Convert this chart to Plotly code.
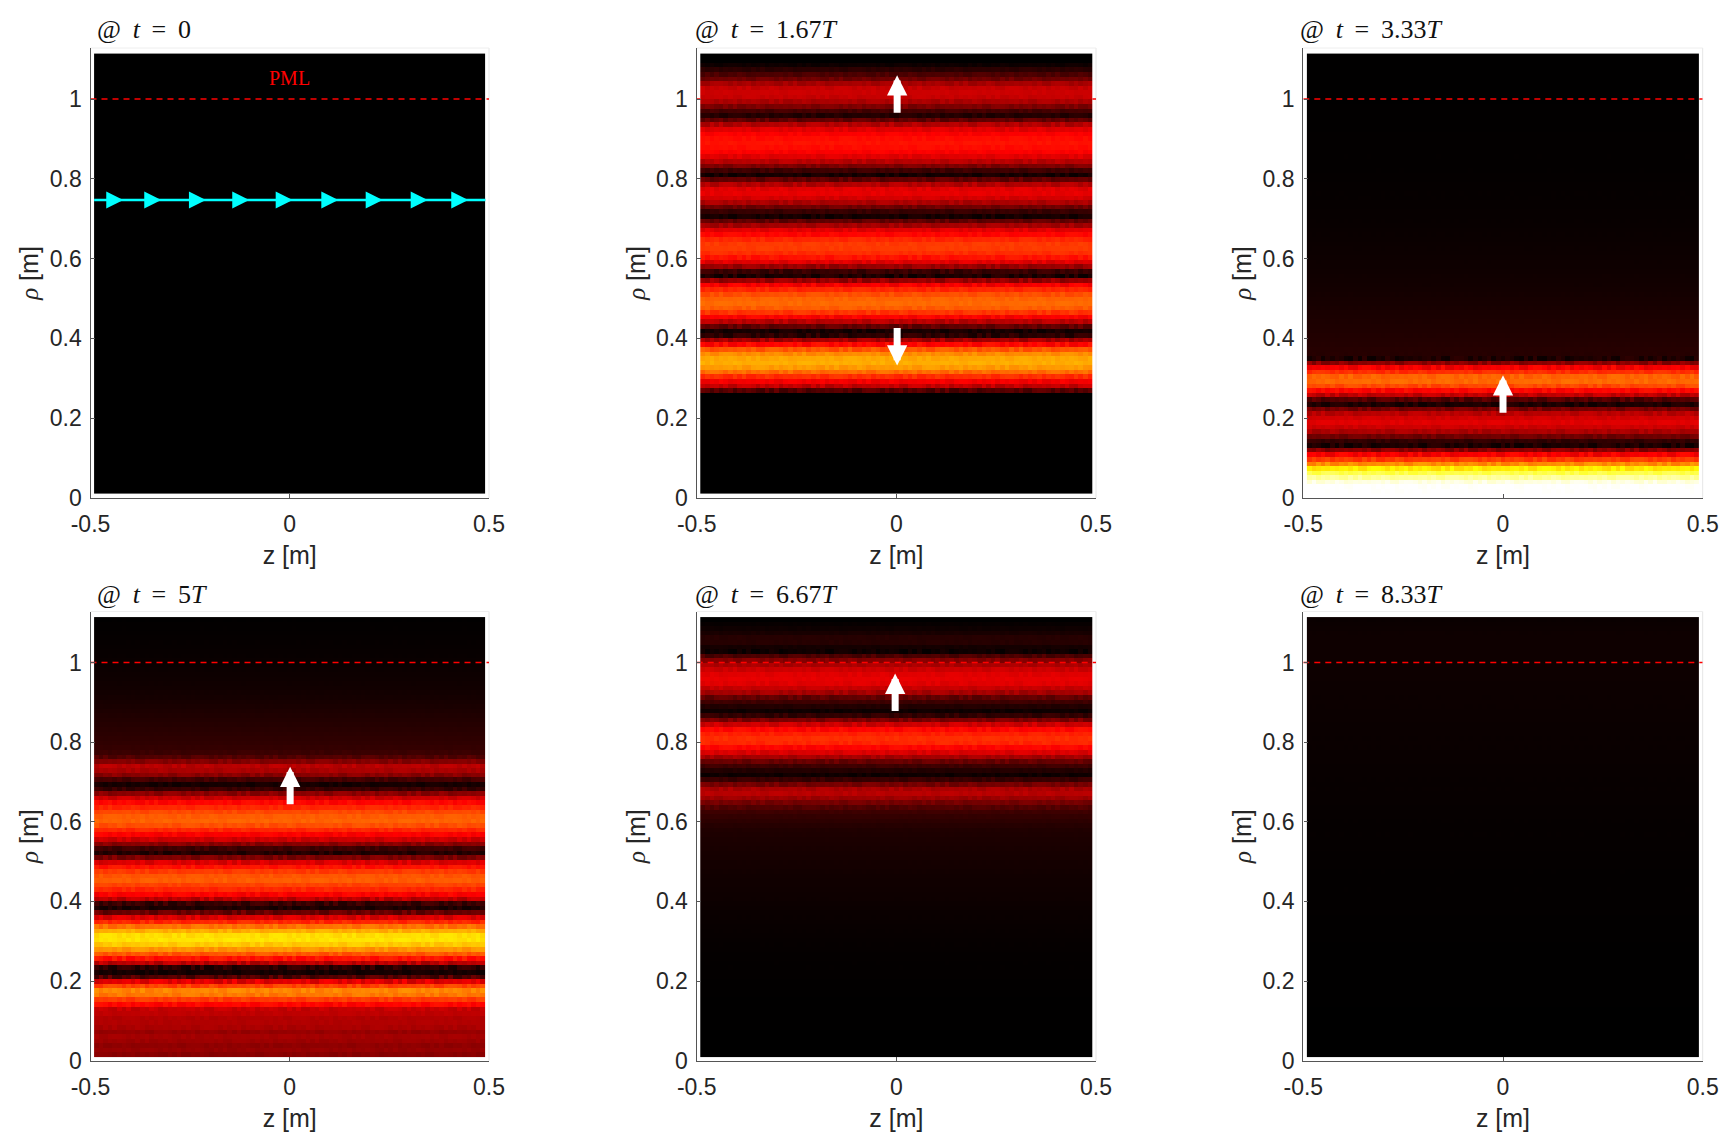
import numpy as np
import plotly.graph_objects as go

W, H = 1731, 1144
GAP = " \u2009"
titles = ["@" + GAP + "<i>t</i>" + GAP + "=" + GAP + "0", "@" + GAP + "<i>t</i>" + GAP + "=" + GAP + "1.67<i>T</i>",
          "@" + GAP + "<i>t</i>" + GAP + "=" + GAP + "3.33<i>T</i>", "@" + GAP + "<i>t</i>" + GAP + "=" + GAP + "5<i>T</i>",
          "@" + GAP + "<i>t</i>" + GAP + "=" + GAP + "6.67<i>T</i>", "@" + GAP + "<i>t</i>" + GAP + "=" + GAP + "8.33<i>T</i>"]
x_ticks = [-0.5, 0, 0.5]
x_labels = ["-0.5", "0", "0.5"]
y_ticks = [0, 0.2, 0.4, 0.6, 0.8, 1]
y_labels = ["0", "0.2", "0.4", "0.6", "0.8", "1"]

# Row profiles on the hot colour scale (0 black, 0.375 red, 0.75 yellow, 1 white), bottom row first
profile_t0 = [0.0] * 96
profile_t167 = [0.0] * 22 + [
    .12, .28, .36, .44, .53, .60, .63, .62, .58, .50, .38, .24, .06, .03, .14, .27, .37, .45, .51, .53,
    .52, .49, .43, .36, .22, .04, .08, .22, .33, .40, .44, .46, .46, .43, .38, .33, .24, .14, .03, .08,
    .16, .25, .31, .34, .33, .26, .14, .03, .09, .18, .27, .33, .37, .39, .40, .39, .37, .33, .26, .14,
    .05, .10, .18, .25, .29, .30, .29, .24, .16, .11, .06, .02, 0, 0]
profile_t333 = [
    1.0, 1.0, .97, .90, .82, .72, .58, .46, .36, .20, .04, .07, .16, .25, .30, .33, .31, .27, .17, .04,
    .12, .28, .38, .48, .53, .52, .44, .36, .20, .04, .055, .055, .052, .05, .048, .046, .044, .042, .04, .038,
    .036, .034, .032, .03, .028, .026, .025, .024, .022, .021, .02, .019, .018, .017, .016, .015, .014, .013, .012, .011,
    .01, .01, .009, .009, .008, .008, .007, .007, .006, .006, .005, .005, .005, .005, .004, .004, .004, .004, .004, .003,
    .003, .003, .003, .003, .003, .002, .002, .002, .002, .002, .002, .001, .001, .001, .001, .001]
profile_t5 = [
    .20, .22, .21, .23, .24, .22, .25, .26, .26, .28, .29, .38, .46, .55, .57, .47, .33, .12, .03, .06,
    .27, .40, .50, .59, .67, .71, .70, .63, .54, .43, .32, .15, .04, .08, .27, .37, .43, .47, .51, .50,
    .46, .40, .32, .18, .05, .09, .20, .30, .37, .43, .49, .52, .51, .48, .43, .38, .30, .20, .08, .03,
    .10, .20, .25, .27, .19, .12, .085, .075, .07, .066, .062, .058, .054, .05, .046, .042, .038, .034, .03, .027,
    .025, .023, .021, .019, .017, .015, .013, .011, .01, .009, .008, .007, .006, .005, .004, .002]
profile_t667 = [
    0, 0, 0, 0, 0, 0, .001, .001, .001, .002, .002, .002, .002, .003, .003, .003, .003, .004, .004, .005,
    .005, .006, .006, .007, .008, .009, .01, .011, .012, .013, .014, .015, .016, .018, .02, .021, .022, .023, .024, .025,
    .027, .029, .03, .032, .034, .036, .038, .04, .043, .046, .055, .065, .075, .09, .12, .17, .23, .27, .25, .17,
    .08, .02, .05, .09, .15, .24, .32, .38, .43, .44, .42, .38, .30, .18, .07, .02, .05, .09, .14, .24,
    .29, .33, .34, .33, .30, .25, .19, .11, .02, .03, .055, .055, .035, .02, .01, 0]
profile_t833 = [
    0, 0, 0, 0, 0, 0, 0, 0, 0, 0, 0, .001, .001, .001, .001, .001, .001, .001, .002, .002,
    .002, .002, .002, .002, .002, .003, .003, .003, .003, .003, .003, .004, .004, .004, .004, .004, .005, .005, .005, .005,
    .005, .006, .006, .006, .006, .007, .007, .007, .008, .008, .008, .008, .009, .009, .009, .01, .01, .01, .011, .011,
    .011, .012, .012, .012, .013, .013, .013, .014, .014, .014, .015, .015, .015, .016, .016, .016, .017, .017, .017, .018,
    .018, .018, .019, .019, .019, .02, .02, .02, .02, .02, .02, .02, .02, .018, .016, .014]
profiles = [profile_t0, profile_t167, profile_t333, profile_t5, profile_t667, profile_t833]

# Hand-picked cell speckle read as the typical spread seen along a row
speckle = [.6, -.9, .2, 1.0, -.4, -.7, .9, .1, -1.0, .5, -.2, .8, -.6, .3, -.8, .7, -.1, 1.0, -.5,
           .4, -.9, .2, .6, -1.0, .9, -.3, .1, -.7, .8, -.4, .5, -.6, 1.0, -.2, -.8, .3, .7]

cyan_tips_z = [-0.4177, -0.3224, -0.2103, -0.1016, 0.0074, 0.1219, 0.2333, 0.3462, 0.4480]
cyan_rho = 0.747
pml_rho = 1.0
img_z = (-0.491, 0.491)
img_rho = (0.01, 1.114)
n_cols = 85
arrows = [(1, 0.002, 1.06, 1), (1, 0.002, 0.332, -1), (2, 0.0, 0.308, 1), (3, 0.001, 0.738, 1), (4, -0.003, 0.972, 1)]

AX_X = [(90.5, 489.0), (696.7, 1096.0), (1303.3, 1702.7)]
AX_Y = [(48.0, 498.0), (611.5, 1060.7)]
TITLE_SHIFT_X = [4, -4, -5]
TITLE_SHIFT_Y = [2, 0]
HOT = [[0, "#000000"], [0.375, "#ff0000"], [0.75, "#ffff00"], [1, "#ffffff"]]
TXT = "#262626"
fig = go.Figure()

z_edges = np.linspace(img_z[0], img_z[1], n_cols + 1)
z_cent = (z_edges[:-1] + z_edges[1:]) / 2
rho_edges = np.linspace(img_rho[0], img_rho[1], 97)
rho_cent = (rho_edges[:-1] + rho_edges[1:]) / 2

def cells(p):
    p = np.array(p, float)
    out = np.zeros((96, n_cols))
    for i in range(96):
        lo = abs(p[i] - p[max(i - 1, 0)])
        hi = abs(p[min(i + 1, 95)] - p[i])
        amp = 0.16 * max(lo, hi) + (0.005 if p[i] > 0.1 else 0)
        for j in range(n_cols):
            out[i, j] = p[i] + amp * speckle[(3 * j + 7 * i) % len(speckle)] if p[i] > 0 else 0
    return np.clip(out, 0, 1)

annotations, shapes = [], []
for k in range(6):
    r, c = k // 3, k % 3
    n = k + 1
    sfx = "" if n == 1 else str(n)
    x0, x1 = AX_X[c]
    y0, y1 = AX_Y[r]
    fig.add_trace(go.Heatmap(x=z_cent, y=rho_cent, z=cells(profiles[k]), zmin=0, zmax=1, colorscale=HOT,
                             showscale=False, zsmooth=False, hoverinfo="skip", xaxis="x" + sfx, yaxis="y" + sfx))
    if k == 1:
        lx, ly = [-0.5, img_z[0], None, img_z[1], 0.5], [pml_rho, pml_rho, None, pml_rho, pml_rho]
    else:
        lx, ly = [-0.5, 0.5], [pml_rho, pml_rho]
    fig.add_trace(go.Scatter(x=lx, y=ly, mode="lines", line=dict(color="#ff0000", width=1.4, dash="6px,5px"),
                             showlegend=False, hoverinfo="skip", xaxis="x" + sfx, yaxis="y" + sfx))
    axis_common = dict(showgrid=False, zeroline=False, showline=True, linecolor="#555555", linewidth=1.4,
                       automargin=False, ticks="inside", ticklen=4, tickwidth=1, tickcolor="#555555",
                       tickfont=dict(family="Liberation Sans", size=23, color=TXT))
    fig.layout["xaxis" + sfx] = go.layout.XAxis(
        domain=[x0 / W, x1 / W], range=[-0.5, 0.5], anchor="y" + sfx, tickvals=x_ticks, ticktext=x_labels,
        ticklabelstandoff=5,
        title=dict(text="z [m]", font=dict(family="Liberation Sans", size=25, color=TXT), standoff=10), **axis_common)
    fig.layout["yaxis" + sfx] = go.layout.YAxis(
        domain=[1 - y1 / H, 1 - y0 / H], range=[0, 1.128], anchor="x" + sfx, tickvals=y_ticks, ticktext=y_labels,
        ticklabelstandoff=3,
        title=dict(text="<span style='font-family:Liberation Serif'><i>ρ</i></span> [m]",
                   font=dict(family="Liberation Sans", size=25, color=TXT), standoff=3), **axis_common)
    xr, yr = "x" + sfx, "y" + sfx
    shapes.append(dict(type="line", xref=xr + " domain", yref=yr + " domain", x0=1, x1=1, y0=0, y1=1,
                       line=dict(color="#e6e6e6", width=1), layer="below"))
    shapes.append(dict(type="line", xref=xr + " domain", yref=yr + " domain", x0=0, x1=1, y0=1, y1=1,
                       line=dict(color="#eeeeee", width=1), layer="below"))
    annotations.append(dict(xref=xr + " domain", yref=yr + " domain", x=0, y=1.0, xshift=TITLE_SHIFT_X[c],
                            yshift=TITLE_SHIFT_Y[r], xanchor="left", yanchor="bottom", showarrow=False,
                            text=titles[k], font=dict(family="Liberation Serif", size=26, color="#111111")))

fig.add_trace(go.Scatter(x=list(img_z), y=[cyan_rho, cyan_rho], mode="lines", line=dict(color="#00ffff", width=2.6),
                         showlegend=False, hoverinfo="skip", xaxis="x", yaxis="y"))
for z in cyan_tips_z:
    annotations.append(dict(xref="x", yref="y", x=z, y=cyan_rho, ax=-12, ay=0, axref="pixel", ayref="pixel", text="",
                            showarrow=True, arrowhead=2, arrowsize=1.31, arrowwidth=2.6, arrowcolor="#00ffff",
                            standoff=0, startstandoff=0))
annotations.append(dict(xref="x", yref="y", x=0, y=1.052, showarrow=False, text="PML",
                        font=dict(family="Liberation Serif", size=20, color="#ff0000")))
for panel, z, rho, d in arrows:
    sfx = "" if panel == 0 else str(panel + 1)
    annotations.append(dict(xref="x" + sfx, yref="y" + sfx, x=z, y=rho, ax=0, ay=39 * d, axref="pixel", ayref="pixel",
                            text="", showarrow=True, arrowhead=2, arrowsize=0.58, arrowwidth=7, arrowcolor="#ffffff",
                            standoff=0, startstandoff=0))

fig.update_layout(template="none", width=W, height=H, margin=dict(l=0, r=0, t=0, b=0), paper_bgcolor="white",
                  plot_bgcolor="white", showlegend=False, annotations=annotations, shapes=shapes)
fig.write_html("out.html", config=dict(displayModeBar=False),
               post_script="document.body.style.margin='0';document.body.style.overflow='hidden';")
